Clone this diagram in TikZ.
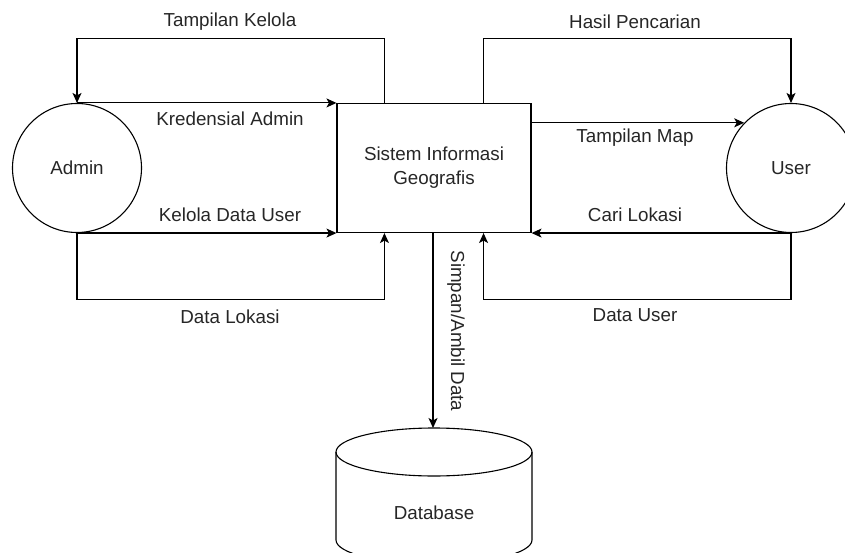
\documentclass[tikz,border=0pt]{standalone}
\usepackage{fontspec}
\setmainfont{Liberation Sans}
\usetikzlibrary{arrows.meta}

\tikzset{
  entity/.style={draw, circle, minimum size=129pt, inner sep=0pt},
  process/.style={draw, rectangle, minimum width=194pt, minimum height=129pt, align=center},
  flow/.style={-{Stealth[length=10pt,width=9pt,inset=2.5pt]}}
}

\begin{document}
\begin{tikzpicture}[x=1pt, y=-1pt, line width=1.1pt, font=\fontsize{18.8}{24}\selectfont, text=black!85]

% Canvas
\path[use as bounding box, clip] (0,0) rectangle (845,553);

% Parameters
\def\loopup{64}   % rise of the upper loops
\def\loopdn{66}   % drop of the lower loops
\def\loopin{48}   % offset of loop ends from the box corners

% Entities and process
\node[entity] (admin) at (77,168) {Admin};
\node[process] (sig) at (434,168) {Sistem Informasi\\Geografis};
\node[entity] (user) at (791,168) {User};

% Data store
\coordinate (dbtop) at (434,428);
\draw (336,452) -- (336,540) arc[start angle=180, end angle=0, x radius=98, y radius=24] -- (532,452);
\draw (434,452) ellipse[x radius=98, y radius=24];
\node (db) at (434,513) {Database};

% Flows on the admin side
\draw[flow] ([xshift=\loopin pt]sig.north west) -- ++(0,-\loopup) -| (admin.north);
\draw[flow] (admin.north) -- (sig.north west);
\draw[flow] (admin.south) -- (sig.south west);
\draw[flow] (admin.south) -- ++(0,\loopdn) -| ([xshift=\loopin pt]sig.south west);

% Flows on the user side
\draw[flow] ([xshift=-\loopin pt]sig.north east) -- ++(0,-\loopup) -| (user.north);
\draw[flow] (sig.east |- user.136) -- (user.136);
\draw[flow] (user.south) -- (sig.south east);
\draw[flow] (user.south) -- ++(0,\loopdn) -| ([xshift=-\loopin pt]sig.south east);

% Flow to the data store
\draw[flow] ([xshift=-1pt]sig.south) -- ([xshift=-1pt]dbtop);

% Labels
\node at (230,22) {Tampilan Kelola};
\node at (230,119) {Kredensial Admin};
\node at (230,215) {Kelola Data User};
\node at (230,317) {Data Lokasi};
\node at (635,22) {Hasil Pencarian};
\node at (635,138) {Tampilan Map};
\node at (635,215) {Cari Lokasi};
\node at (635,315) {Data User};
\node[rotate=-90] at (456,331) {Simpan/Ambil Data};

\end{tikzpicture}
\end{document}
